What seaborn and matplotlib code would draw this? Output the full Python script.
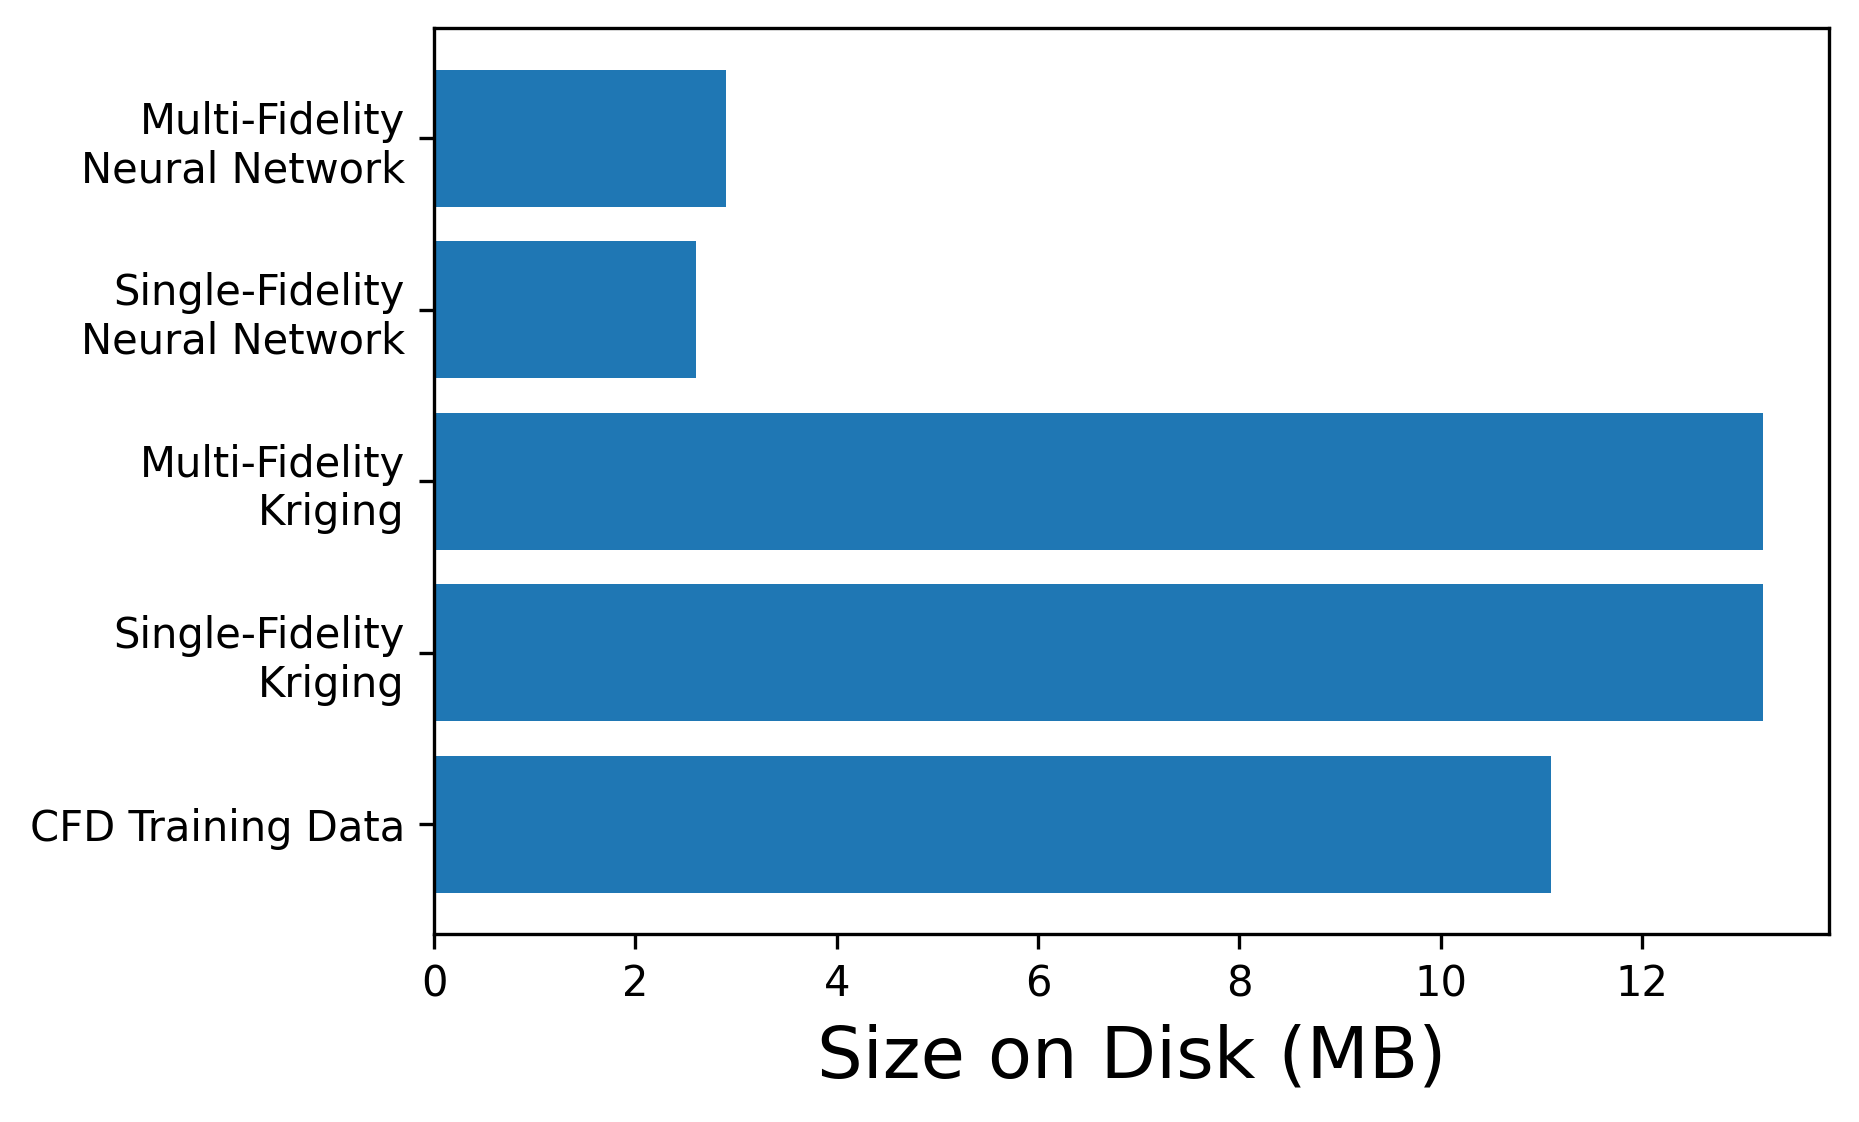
import numpy as np
import pandas as pd

import matplotlib
matplotlib.use('Agg')
import matplotlib.pyplot as plt
import seaborn as sns

# top to bottom, as seaborn draws the first category at the top
labels = ['Multi-Fidelity\nNeural Network', 'Single-Fidelity\nNeural Network',
          'Multi-Fidelity\nKriging', 'Single-Fidelity\nKriging', 'CFD Training Data']
sizes_mb = [2.9, 2.6, 13.2, 13.2, 11.1]

df = pd.DataFrame({'model': labels, 'size': sizes_mb})

plt.rcParams['font.family'] = ['DejaVu Sans']
fig, ax = plt.subplots(figsize=(1859 / 300, 1122 / 300), dpi=300)
sns.barplot(data=df, x='size', y='model', orient='h', color='#1f77b4',
            saturation=1, width=0.8, ax=ax)

# matplotlib-like 5% margins instead of seaborn's categorical limits
n = len(labels)
span = (n - 1) + 0.8
ax.set_ylim(n - 1 + 0.4 + 0.05 * span, -0.4 - 0.05 * span)
ax.set_xlim(0, max(sizes_mb) * 1.05)
ax.set_xticks(np.arange(0, 13, 2))
ax.set_ylabel('')
ax.set_xlabel('Size on Disk (MB)', fontsize=17.3, labelpad=4.5)
ax.tick_params(labelsize=10)

plt.subplots_adjust(left=0.2335, right=0.984, top=0.9746, bottom=0.1676)
fig.savefig('out.png', dpi=300)
